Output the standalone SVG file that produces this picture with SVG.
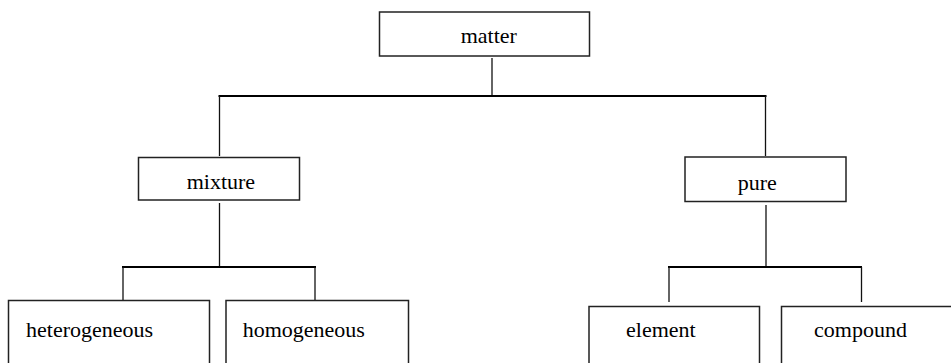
<svg xmlns="http://www.w3.org/2000/svg" width="951" height="363" viewBox="0 0 951 363">
<style>
.box{fill:#fff;stroke:#222;stroke-width:1.5}
.lbl{font-family:"Liberation Serif","Times New Roman",serif;font-size:22px;fill:#000}
.v{stroke:#111;stroke-width:1.3;fill:none}
.h{stroke:#000;stroke-width:2;fill:none}
</style>
<rect width="951" height="363" fill="#fff"/>
<g id="connectors">
<line class="v" x1="492" y1="58" x2="492" y2="96"/>
<line class="h" x1="218.5" y1="96" x2="766.5" y2="96"/>
<line class="v" x1="219.5" y1="96" x2="219.5" y2="156"/>
<line class="v" x1="765.5" y1="96" x2="765.5" y2="156"/>
<line class="v" x1="219.5" y1="203" x2="219.5" y2="267"/>
<line class="h" x1="122" y1="267" x2="316" y2="267"/>
<line class="v" x1="123" y1="267" x2="123" y2="300"/>
<line class="v" x1="315" y1="267" x2="315" y2="300"/>
<line class="v" x1="766" y1="205" x2="766" y2="267"/>
<line class="h" x1="668" y1="267" x2="862" y2="267"/>
<line class="v" x1="669" y1="267" x2="669" y2="302"/>
<line class="v" x1="861.5" y1="267" x2="861.5" y2="302"/>
</g>
<g id="matter">
<rect class="box" x="379.5" y="12" width="210" height="44"/>
<text class="lbl" x="460.7" y="43">matter</text>
</g>
<g id="mixture">
<rect class="box" x="138.5" y="157.5" width="161" height="42.5"/>
<text class="lbl" x="186.7" y="189">mixture</text>
</g>
<g id="pure">
<rect class="box" x="685" y="157" width="161" height="44.5"/>
<text class="lbl" x="737.7" y="190">pure</text>
</g>
<g id="heterogeneous">
<rect class="box" x="8.5" y="300.5" width="201" height="80"/>
<text class="lbl" x="26" y="337">heterogeneous</text>
</g>
<g id="homogeneous">
<rect class="box" x="226" y="300.5" width="182.5" height="80"/>
<text class="lbl" x="242.7" y="337">homogeneous</text>
</g>
<g id="element">
<rect class="box" x="589" y="306.5" width="170.5" height="80"/>
<text class="lbl" x="626" y="337">element</text>
</g>
<g id="compound">
<rect class="box" x="781.5" y="306.5" width="190" height="80"/>
<text class="lbl" x="814" y="337">compound</text>
</g>
</svg>
